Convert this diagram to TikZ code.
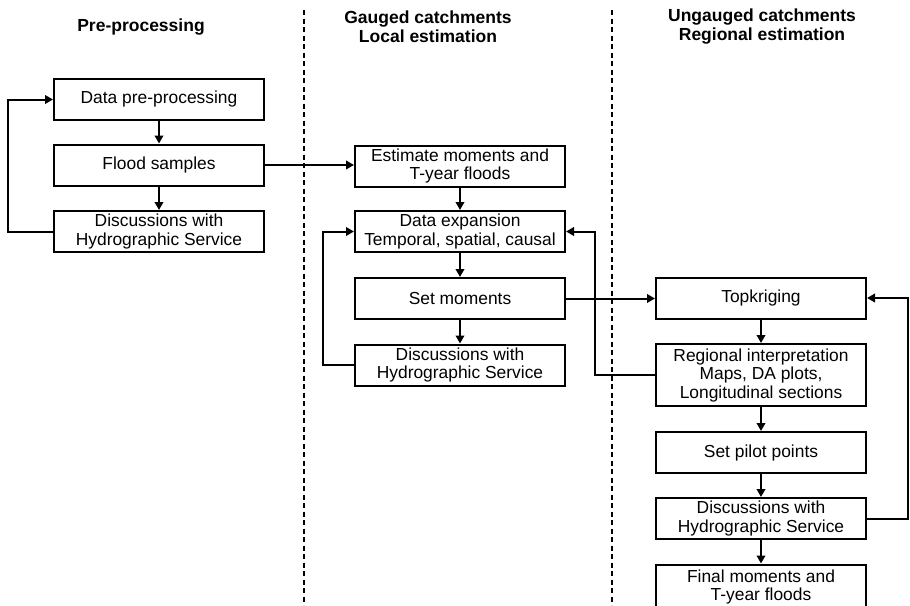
\documentclass[tikz,border=0pt]{standalone}
\usepackage{fontspec}
\setmainfont{Liberation Sans}
\usetikzlibrary{arrows.meta,positioning}

\begin{document}
\begin{tikzpicture}[
    x=1pt, y=-1pt,
    >={Triangle[length=8pt,width=8.5pt]},
    stage/.style={draw=black, line width=2pt, align=center, minimum width=210pt, minimum height=41pt, inner sep=2pt, font=\fontsize{17.4}{18.5}\selectfont},
    head/.style={align=center, font=\fontsize{17.5}{19}\selectfont\bfseries},
    flow/.style={->, line width=2pt},
    divider/.style={line width=1.4pt, dash pattern=on 5pt off 3.5pt}
]
\useasboundingbox (0,0) rectangle (910,605);
% column headers
\node[head] (hpre) at (141,27) {Pre-processing};
\node[head] (hloc) at (428,27) {Gauged catchments\\Local estimation};
\node[head] (hreg) at (762,27) {Ungauged catchments\\Regional estimation};
\draw[divider] (304,10) -- (304,605);
\draw[divider] (612,10) -- (612,605);
% pre-processing
\node[stage] (prep) at (159,99.5) {Data pre-processing};
\node[stage] (samp) at (159,165) {Flood samples};
\node[stage] (dis1) at (159,231.5) {Discussions with\\Hydrographic Service};
% local estimation
\node[stage] (est) at (460,166) {Estimate moments and\\T-year floods};
\node[stage] (expn) at (460,231.5) {Data expansion\\Temporal, spatial, causal};
\node[stage] (setm) at (460,298.5) {Set moments};
\node[stage] (dis2) at (460,365) {Discussions with\\Hydrographic Service};
% regional estimation
\node[stage] (topk) at (761,298) {Topkriging};
\node[stage, minimum height=62pt] (interp) at (761,375) {Regional interpretation\\Maps, DA plots,\\Longitudinal sections};
\node[stage] (pilot) at (761,452.5) {Set pilot points};
\node[stage] (dis3) at (761,518.5) {Discussions with\\Hydrographic Service};
\node[stage, minimum height=45pt] (final) at (761,587) {Final moments and\\T-year floods};
% connectors
\draw[flow] (prep) -- (samp);
\draw[flow] (samp) -- (dis1);
\draw[flow] (dis1.west) -- ++(-45,0) |- (prep.west);
\draw[flow] (samp.east) -- (samp.east -| est.west);
\draw[flow] (est) -- (expn);
\draw[flow] (expn) -- (setm);
\draw[flow] (setm) -- (dis2);
\draw[flow] (dis2.west) -- ++(-31,0) |- (expn.west);
\draw[flow] (setm.east) -- (setm.east -| topk.west);
\draw[flow] (interp.west) -- ++(-60,0) |- (expn.east);
\draw[flow] (topk) -- (interp);
\draw[flow] (interp) -- (pilot);
\draw[flow] (pilot) -- (dis3);
\draw[flow] (dis3) -- (final);
\draw[flow] (dis3.east) -- ++(41,0) |- (topk.east);
\end{tikzpicture}
\end{document}
